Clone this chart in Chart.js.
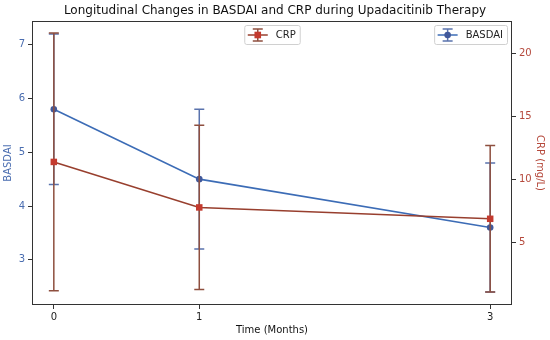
<!DOCTYPE html>
<html>
<head>
<meta charset="utf-8">
<script src="https://cdn.jsdelivr.net/npm/chart.js@4.4.1/dist/chart.umd.min.js"></script>
<style>
  body { margin: 0; background: #fff; }
  canvas { display: block; }
</style>
</head>
<body>
<canvas id="chart" width="550" height="340"></canvas>
<script>
// data
const months = [0, 1, 3];
const basdai = [5.8, 4.5, 3.6];
const basdaiErr = [1.4, 1.3, 1.2];
const crp = [11.4, 7.8, 6.9];
const crpErr = [10.2, 6.5, 5.8];
const monthTicks = [0, 1, 3];
const basdaiTicks = [3, 4, 5, 6, 7];
const crpTicks = [5, 10, 15, 20];

const FONT = "'DejaVu Sans', sans-serif";
const blueLine = "#3c6cb6";
const blueMark = "#41599b";
const blueErr = "#5a73ad";
const blueText = "#4a6db0";
const redLine = "#983f2e";
const redMark = "#c43a2e";
const redErr = "#8e4f3f";
const redText = "#b5493c";

const errs = { y: basdaiErr, y2: crpErr };
const errColors = { y: blueErr, y2: redErr };

// error bars drawn under each line, with the chart scales
const errorBars = {
  id: "errorBars",
  beforeDatasetDraw(chart, args) {
    const ds = chart.data.datasets[args.index];
    const xs = chart.scales.x;
    const ys = chart.scales[ds.yAxisID];
    const err = errs[ds.yAxisID];
    const ctx = chart.ctx;
    ctx.save();
    ctx.strokeStyle = errColors[ds.yAxisID];
    ctx.lineWidth = 1.5;
    ds.data.forEach((p, i) => {
      const x = xs.getPixelForValue(p.x);
      const top = ys.getPixelForValue(p.y + err[i]);
      const bot = ys.getPixelForValue(p.y - err[i]);
      ctx.beginPath();
      ctx.moveTo(x, top); ctx.lineTo(x, bot);
      ctx.moveTo(x - 5, top); ctx.lineTo(x + 5, top);
      ctx.moveTo(x - 5, bot); ctx.lineTo(x + 5, bot);
      ctx.stroke();
    });
    ctx.restore();
  }
};

function drawLegendBox(ctx, left, top, label, line, mark, errc, shape) {
  ctx.font = "10px " + FONT;
  const w = 31.5 + ctx.measureText(label).width + 4;
  const h = 19;
  ctx.fillStyle = "rgba(255,255,255,0.8)";
  ctx.strokeStyle = "#d0d0d0";
  ctx.lineWidth = 1;
  ctx.beginPath();
  ctx.roundRect(left + 0.5, top + 0.5, w, h, 2);
  ctx.fill(); ctx.stroke();
  const cy = top + h / 2 + 0.5;
  const cx = left + 13.5;
  ctx.strokeStyle = errc; ctx.lineWidth = 1.5;
  ctx.beginPath();
  ctx.moveTo(cx, cy - 6); ctx.lineTo(cx, cy + 6);
  ctx.moveTo(cx - 5, cy - 6); ctx.lineTo(cx + 5, cy - 6);
  ctx.moveTo(cx - 5, cy + 6); ctx.lineTo(cx + 5, cy + 6);
  ctx.stroke();
  ctx.strokeStyle = line;
  ctx.beginPath(); ctx.moveTo(left + 3.5, cy); ctx.lineTo(left + 23.5, cy); ctx.stroke();
  ctx.fillStyle = mark;
  ctx.beginPath();
  if (shape === "rect") ctx.rect(cx - 3.3, cy - 3.3, 6.6, 6.6);
  else ctx.arc(cx, cy, 3.3, 0, Math.PI * 2);
  ctx.fill();
  ctx.fillStyle = "#222";
  ctx.textBaseline = "middle";
  ctx.textAlign = "left";
  ctx.fillText(label, left + 31.5, cy);
  return w;
}

const frameAndLegends = {
  id: "frameAndLegends",
  afterDraw(chart) {
    const a = chart.chartArea;
    const ctx = chart.ctx;
    ctx.save();
    ctx.strokeStyle = "#333";
    ctx.lineWidth = 1;
    ctx.strokeRect(a.left + 0.5, a.top + 0.5, a.right - a.left - 1, a.bottom - a.top - 1);
    // CRP legend: upper center, BASDAI legend: upper right
    ctx.font = "10px " + FONT;
    const wc = 31.5 + ctx.measureText("CRP").width + 4;
    drawLegendBox(ctx, (a.left + a.right) / 2 - wc / 2, a.top + 4, "CRP", redLine, redMark, redErr, "rect");
    const wb = 31.5 + ctx.measureText("BASDAI").width + 4;
    drawLegendBox(ctx, a.right - 5 - wb, a.top + 4, "BASDAI", blueLine, blueMark, blueErr, "circle");
    ctx.restore();
  }
};

const pts = (vals) => months.map((m, i) => ({ x: m, y: vals[i] }));

new Chart(document.getElementById("chart"), {
  type: "line",
  data: {
    datasets: [
      {
        label: "CRP",
        data: pts(crp),
        yAxisID: "y2",
        borderColor: redLine,
        borderWidth: 1.6,
        pointStyle: "rect",
        pointRadius: 4.6,
        pointBackgroundColor: redMark,
        pointBorderColor: redMark,
        pointBorderWidth: 0,
        tension: 0
      },
      {
        label: "BASDAI",
        data: pts(basdai),
        yAxisID: "y",
        borderColor: blueLine,
        borderWidth: 1.6,
        pointStyle: "circle",
        pointRadius: 3.3,
        pointBackgroundColor: blueMark,
        pointBorderColor: blueMark,
        pointBorderWidth: 0,
        tension: 0
      }
    ]
  },
  options: {
    responsive: false,
    animation: false,
    devicePixelRatio: 1,
    layout: { padding: 0 },
    plugins: {
      legend: { display: false },
      tooltip: { enabled: false },
      title: {
        display: true,
        text: "Longitudinal Changes in BASDAI and CRP during Upadacitinib Therapy",
        color: "#111",
        font: { family: FONT, size: 12, weight: "normal" },
        padding: { top: 4, bottom: 2.6 }
      }
    },
    scales: {
      x: {
        type: "linear",
        min: -0.15,
        max: 3.15,
        afterBuildTicks: (s) => { s.ticks = monthTicks.map(v => ({ value: v })); },
        afterFit: (s) => { s.height = 35; },
        grid: { drawOnChartArea: false, tickLength: 4, tickColor: "#333" },
        border: { display: false },
        ticks: { color: "#222", font: { family: FONT, size: 10 }, padding: 2 },
        title: { display: true, text: "Time (Months)", color: "#111", font: { family: FONT, size: 10 }, padding: 4 }
      },
      y: {
        position: "left",
        min: 2.16,
        max: 7.44,
        afterBuildTicks: (s) => { s.ticks = basdaiTicks.map(v => ({ value: v })); },
        afterFit: (s) => { s.width = 32; },
        grid: { drawOnChartArea: false, tickLength: 4, tickColor: "#333" },
        border: { display: false },
        ticks: { color: blueText, font: { family: FONT, size: 10 }, padding: 3 },
        title: { display: true, text: "BASDAI", color: blueText, font: { family: FONT, size: 10 }, padding: { top: 2.5, bottom: 0 } }
      },
      y2: {
        position: "right",
        min: 0.08,
        max: 22.55,
        afterBuildTicks: (s) => { s.ticks = crpTicks.map(v => ({ value: v })); },
        afterFit: (s) => { s.width = 38; },
        grid: { drawOnChartArea: false, tickLength: 4, tickColor: "#333" },
        border: { display: false },
        ticks: { color: redText, font: { family: FONT, size: 10 }, padding: 3 },
        title: { display: true, text: "CRP (mg/L)", color: redText, font: { family: FONT, size: 10 }, padding: { top: 4, bottom: 0 } }
      }
    }
  },
  plugins: [errorBars, frameAndLegends]
});
</script>
</body>
</html>
